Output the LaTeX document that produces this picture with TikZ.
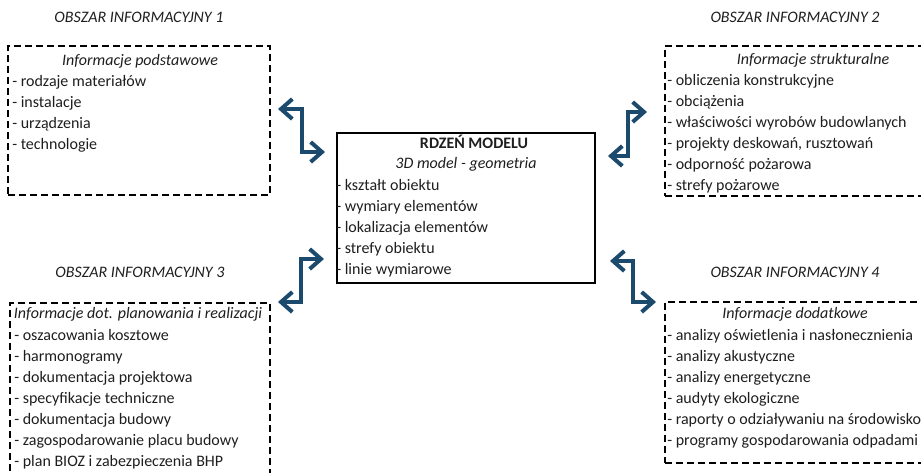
\documentclass[tikz,border=0pt]{standalone}
\usepackage{fontspec}
\setmainfont{Carlito}
\usetikzlibrary{arrows.meta,calc,fit}
\definecolor{linkblue}{HTML}{1B4A6D}
\definecolor{textgray}{HTML}{1E1E1E}
\newcommand{\diagfont}{\fontsize{12}{14}\selectfont}
\tikzset{
  areabox/.style={draw,line width=1.5pt,dash pattern=on 5.25pt off 3pt,inner sep=0pt},
  corebox/.style={draw,line width=1.5pt,inner sep=0pt},
  item/.style={anchor=base west,inner sep=0pt,text=textgray,font=\diagfont},
  boxtitle/.style={anchor=base,inner sep=0pt,text=textgray,font=\diagfont\itshape},
  areahead/.style={anchor=base,inner sep=0pt,text=textgray,font=\diagfont\itshape},
  link/.style={draw=linkblue,line width=3pt,{Straight Barb[length=8.5pt,width=15pt]}-{Straight Barb[length=8.5pt,width=15pt]}}
}
\begin{document}
\begin{tikzpicture}[x=0.75pt,y=-0.75pt]
\useasboundingbox (0,0) rectangle (921,472);
% areas
\node[areabox,fit={(8,46) (270,195)}] (box1) {};
\node[areabox,fit={(665,46) (962,196)}] (box2) {};
\node[areabox,fit={(10,303) (270,480)}] (box3) {};
\node[areabox,fit={(665,302) (925,463)}] (box4) {};
\node[corebox,fit={(337,133) (595,283)}] (core) {};
% headers
\node[areahead] (h1) at (139,22) {OBSZAR INFORMACYJNY 1};
\node[areahead] (h2) at (795,22) {OBSZAR INFORMACYJNY 2};
\node[areahead] (h3) at (140,277) {OBSZAR INFORMACYJNY 3};
\node[areahead] (h4) at (795,277) {OBSZAR INFORMACYJNY 4};
% area 1
\node[boxtitle] (t1) at (140,65) {Informacje podstawowe};
\foreach \t [count=\i from 0] in {rodzaje materiałów,instalacje,urządzenia,technologie}
  \node[item] (b1-\i) at (12,86+21*\i) {- \t};
% area 2
\node[boxtitle] (t2) at (813,64) {Informacje strukturalne};
\foreach \t [count=\i from 0] in {obliczenia konstrukcyjne,obciążenia,właściwości wyrobów budowlanych,{projekty deskowań, rusztowań},odporność pożarowa,strefy pożarowe}
  \node[item] (b2-\i) at (667,85+21*\i) {- \t};
% area 3
\node[boxtitle] (t3) at (138,318) {Informacje dot. planowania i realizacji};
\foreach \t [count=\i from 0] in {oszacowania kosztowe,harmonogramy,dokumentacja projektowa,specyfikacje techniczne,dokumentacja budowy,zagospodarowanie placu budowy,plan BIOZ i zabezpieczenia BHP}
  \node[item] (b3-\i) at (14,340+21*\i) {- \t};
% area 4
\node[boxtitle] (t4) at (795,318) {Informacje dodatkowe};
\foreach \t [count=\i from 0] in {analizy oświetlenia i nasłonecznienia,analizy akustyczne,analizy energetyczne,audyty ekologiczne,raporty o odziaływaniu na środowisko,programy gospodarowania odpadami}
  \node[item] (b4-\i) at (667,340+21*\i) {- \t};
% core
\node[boxtitle,font=\diagfont\bfseries] (tc) at (474,148) {RDZEŃ MODELU};
\node[boxtitle] (sc) at (466,168) {3D model - geometria};
\foreach \t [count=\i from 0] in {kształt obiektu,wymiary elementów,lokalizacja elementów,strefy obiektu,linie wymiarowe}
  \node[item] (c-\i) at (336,190+21*\i) {- \t};
% links
\coordinate (a1s) at ($(box1.north east)+(7,64)$);
\coordinate (a1e) at ($(core.north west)+(-11,20)$);
\coordinate (a2s) at ($(box2.north west)+(-17,67)$);
\coordinate (a2e) at ($(core.north east)+(12,24)$);
\coordinate (a3s) at ($(core.south west)+(-12,-25)$);
\coordinate (a3e) at ($(box3.north east)+(7,0)$);
\coordinate (a4s) at ($(core.south east)+(14,-23)$);
\coordinate (a4e) at ($(box4.north west)+(-8,1)$);
\foreach \k in {1,2,3,4}
  \draw[link] (a\k s) -| ($(a\k s)!.5!(a\k e)$) |- (a\k e);
\end{tikzpicture}
\end{document}
